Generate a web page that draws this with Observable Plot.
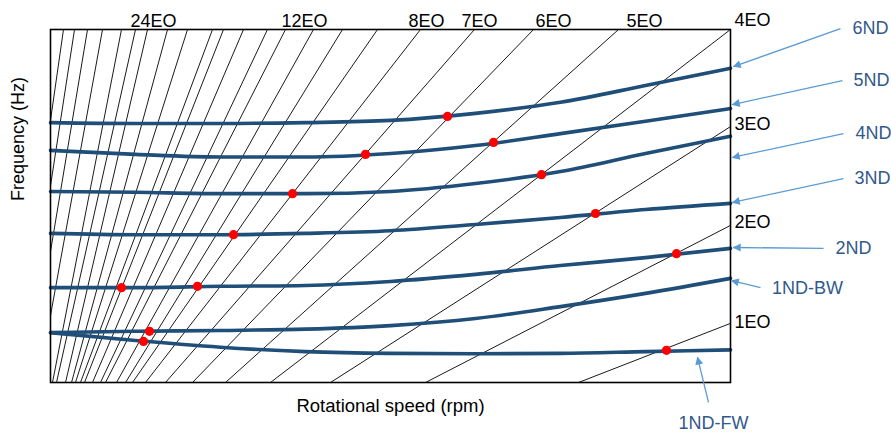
<!DOCTYPE html>
<html>
<head>
<meta charset="utf-8">
<script src="https://cdn.jsdelivr.net/npm/d3@7"></script>
<script src="https://cdn.jsdelivr.net/npm/@observablehq/plot@0.6"></script>
<style>
  html, body { margin: 0; padding: 0; background: #fff; }
</style>
</head>
<body>
<div id="chart"></div>
<script>
// Campbell diagram: blade nodal-diameter modes vs. engine-order excitation lines

// Rotational speed samples (rpm) shared by all mode curves
const speedRpm = [0, 1500, 3000, 4500, 6000, 7500, 9000, 10500, 12000];

// Natural frequency of each mode (Hz) at the speeds above
const modeNames = ["6ND", "5ND", "4ND", "3ND", "2ND", "1ND-BW", "1ND-FW"];
const freq6ND   = [589, 587, 587, 589, 594, 610, 635, 673, 712];
const freq5ND   = [526, 517, 511, 511, 519, 537, 564, 592, 621];
const freq4ND   = [433, 431, 428, 428, 433, 451, 478, 519, 558];
const freq3ND   = [338, 335, 335, 338, 344, 358, 374, 392, 406];
const freq2ND   = [215, 215, 218, 220, 229, 245, 265, 283, 304];
const freq1NDBW = [113, 116, 118, 121, 129, 145, 172, 202, 236];
const freq1NDFW = [113, 95, 80, 70, 66, 65, 66, 70, 74];

// Engine-order lines, each given by its two end points (rpm, Hz)
const eoStartRpm = [9318, 6618, 4941, 3882, 3088, 2506, 2029, 1676, 1447, 1324, 1165, 971, 882, 741, 600, 529, 441, 371, 265, 106, 35, 0, 0, 0, 0];
const eoStartHz  = [0, 0, 0, 0, 0, 0, 0, 0, 0, 0, 0, 0, 0, 0, 0, 0, 0, 0, 0, 0, 0, 152, 297, 446, 594];
const eoEndRpm   = [12000, 12000, 12000, 12000, 10024, 8524, 7482, 6529, 5771, 5153, 4641, 4147, 3829, 3406, 3053, 2859, 2418, 2065, 1712, 1500, 1253, 918, 653, 424, 229];
const eoEndHz    = [134, 356, 580, 800, 800, 800, 800, 800, 800, 800, 800, 800, 800, 800, 800, 800, 800, 800, 800, 800, 800, 800, 800, 800, 800];

// Engine-order labels along the top edge (by rpm) and the right edge (by Hz)
const topEoLabels = ["24EO", "12EO", "8EO", "7EO", "6EO", "5EO"];
const topEoRpm    = [1818, 4482, 6635, 7571, 8876, 10482];
const sideEoLabels = ["4EO", "3EO", "2EO", "1EO"];
const sideEoHz     = [820, 585, 363, 136];

// Resonance crossings (rpm, Hz)
const resonanceRpm = [7006, 5559, 7818, 4271, 8665, 3229, 9618, 1253, 2594, 11047, 1747, 1641, 10871];
const resonanceHz  = [603, 517, 544, 428, 471, 335, 383, 215, 218, 292, 116, 93, 73];

// Mode call-outs: label anchor, arrow tail and arrow tip (rpm, Hz)
const calloutLabelRpm = [14471, 14488, 14524, 14506, 14171, 13359, 11700];
const calloutLabelHz  = [802, 684, 564, 462, 304, 213, -93];
const calloutTailRpm  = [13941, 13976, 13994, 13994, 13641, 12529, 11612];
const calloutTailHz   = [802, 684, 564, 462, 304, 215, -45];
const calloutTipRpm   = [12053, 12035, 12035, 12035, 12053, 12018, 11418];
const calloutTipHz    = [716, 630, 510, 408, 306, 231, 57];

const modeSeries = [freq6ND, freq5ND, freq4ND, freq3ND, freq2ND, freq1NDBW, freq1NDFW];
const modeRows = modeNames.flatMap((mode, j) =>
  speedRpm.map((rpm, i) => ({mode, rpm, hz: modeSeries[j][i]})));

const eoRows = eoStartRpm.map((_, i) => ({
  x1: eoStartRpm[i], y1: eoStartHz[i], x2: eoEndRpm[i], y2: eoEndHz[i]
}));

const resonanceRows = resonanceRpm.map((rpm, i) => ({rpm, hz: resonanceHz[i]}));

const calloutRows = modeNames.map((mode, i) => ({
  mode,
  lx: calloutLabelRpm[i], ly: calloutLabelHz[i],
  x1: calloutTailRpm[i], y1: calloutTailHz[i],
  x2: calloutTipRpm[i], y2: calloutTipHz[i]
}));

const curveColor = "#1f4e79";
const arrowColor = "#5b9bd5";
const calloutText = "#31598a";

const chart = Plot.plot({
  width: 891,
  height: 437,
  marginLeft: 50,
  marginRight: 161,
  marginTop: 29,
  marginBottom: 55,
  x: {domain: [0, 12000], axis: null},
  y: {domain: [0, 800], axis: null},
  style: {
    fontFamily: "'Liberation Sans', Arial, sans-serif",
    fontSize: "18px",
    background: "#fff",
    overflow: "visible"
  },
  marks: [
    Plot.link(eoRows, {x1: "x1", y1: "y1", x2: "x2", y2: "y2", stroke: "#000", strokeWidth: 0.9}),
    Plot.line(modeRows, {x: "rpm", y: "hz", z: "mode", stroke: curveColor, strokeWidth: 3.6, curve: "monotone-x"}),
    Plot.dot(resonanceRows, {x: "rpm", y: "hz", r: 4.6, fill: "#ff0000", stroke: "none"}),
    Plot.frame({stroke: "#000", strokeWidth: 1.6}),
    Plot.text(topEoLabels, {x: (d, i) => topEoRpm[i], text: d => d, frameAnchor: "top", dy: -15, fill: "#000", fontSize: 18}),
    Plot.text(sideEoLabels, {y: (d, i) => sideEoHz[i], text: d => d, frameAnchor: "right", dx: 4, textAnchor: "start", fill: "#000", fontSize: 18}),
    Plot.link(calloutRows, {x1: "x1", y1: "y1", x2: "x2", y2: "y2", stroke: arrowColor, strokeWidth: 1.3, ariaLabel: "callout-arrow"}),
    Plot.text(calloutRows, {x: "lx", y: "ly", text: "mode", fill: calloutText, fontSize: 18}),
    Plot.text(["Rotational speed (rpm)"], {frameAnchor: "bottom", dy: 29, fill: "#000", fontSize: 18.5}),
    Plot.text(["Frequency (Hz)"], {frameAnchor: "left", dx: -32, dy: -5, rotate: -90, fill: "#000", fontSize: 18})
  ]
});

// Filled triangular heads for the call-out arrows
const svg = chart.tagName.toLowerCase() === "svg" ? chart : chart.querySelector("svg");
const ns = "http://www.w3.org/2000/svg";
let defs = svg.querySelector("defs");
if (!defs) {
  defs = document.createElementNS(ns, "defs");
  svg.insertBefore(defs, svg.firstChild);
}
const head = document.createElementNS(ns, "marker");
head.setAttribute("id", "callout-head");
head.setAttribute("viewBox", "0 0 10 10");
head.setAttribute("refX", "9");
head.setAttribute("refY", "5");
head.setAttribute("markerUnits", "userSpaceOnUse");
head.setAttribute("markerWidth", "10");
head.setAttribute("markerHeight", "8");
head.setAttribute("orient", "auto");
head.setAttribute("overflow", "visible");
const tri = document.createElementNS(ns, "path");
tri.setAttribute("d", "M0,0L10,5L0,10Z");
tri.setAttribute("fill", arrowColor);
tri.setAttribute("stroke", "none");
head.appendChild(tri);
defs.appendChild(head);

const arrowGroups = Array.from(svg.querySelectorAll("g")).filter(g =>
  g.getAttribute("aria-label") === "callout-arrow" ||
  (g.getAttribute("stroke") || "").toLowerCase() === arrowColor);
arrowGroups.forEach(g => g.querySelectorAll("path, line").forEach(p => {
  p.setAttribute("marker-end", "url(#callout-head)");
  p.style.markerEnd = "url(#callout-head)";
}));

document.getElementById("chart").appendChild(chart);
</script>
</body>
</html>
